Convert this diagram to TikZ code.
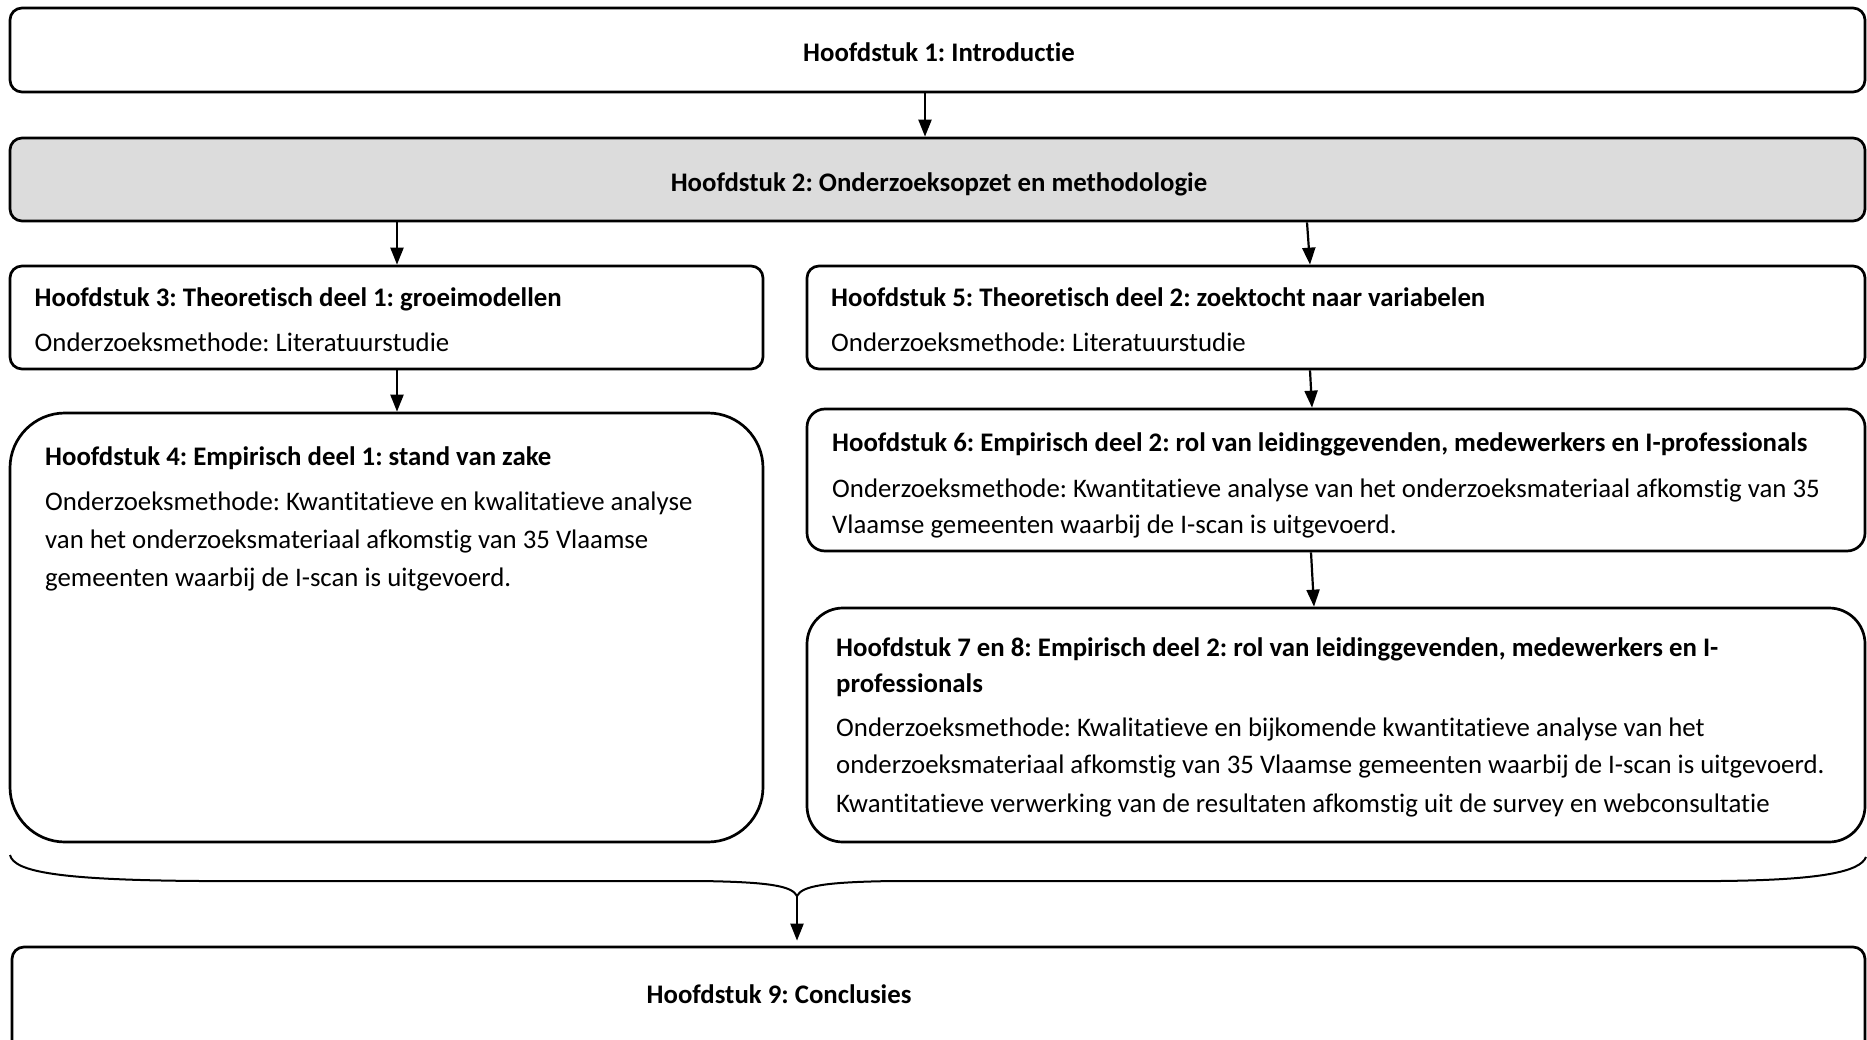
\documentclass[tikz,border=0pt]{standalone}
\usepackage{fontspec}
\setmainfont{Carlito}[Ligatures=NoCommon]
\usetikzlibrary{arrows.meta,calc}
\definecolor{chapgray}{RGB}{220,220,220}
\frenchspacing
\tikzset{
  box/.style={draw=black, line width=2.7pt, rounded corners=12pt, inner sep=0pt, anchor=center},
  txt/.style={anchor=base west, inner sep=0pt},
  ctxt/.style={anchor=base, inner sep=0pt},
  arr/.style={line width=2.2pt, -{Triangle[length=17pt,width=13pt]}},
  bracepath/.style={line width=2pt}
}
\begin{document}
\begin{tikzpicture}[x=1pt,y=-1pt,font=\fontsize{26.8}{38}\selectfont]
\useasboundingbox (0,0) rectangle (1867,1040);
\clip (0,0) rectangle (1867,1040);

% chapter boxes
\node[box, minimum width=1855pt, minimum height=84pt] (b1) at (937.5,50) {};
\node[box, fill=chapgray, minimum width=1855pt, minimum height=83pt] (b2) at (937.5,179.5) {};
\node[box, minimum width=753pt, minimum height=103pt] (b3) at (386.5,317.5) {};
\node[box, minimum width=1058pt, minimum height=103pt] (b5) at (1336,317.5) {};
\node[box, rounded corners=55pt, minimum width=753pt, minimum height=429pt] (b4) at (386.5,627.5) {};
\node[box, rounded corners=18pt, minimum width=1058pt, minimum height=142pt] (b6) at (1336,480) {};
\node[box, rounded corners=36pt, minimum width=1058pt, minimum height=234pt] (b7) at (1336,725) {};
\node[box, minimum width=1853pt, minimum height=140pt] (b9) at (938.5,1017) {};

% texts
\node[ctxt] (t1) at (939,62) {\bfseries Hoofdstuk 1: Introductie};
\node[ctxt] (t2) at (939,192) {\bfseries Hoofdstuk 2: Onderzoeksopzet en methodologie};

\node[txt] (t3a) at (34.5,307) {\bfseries Hoofdstuk 3: Theoretisch deel 1: groeimodellen};
\node[txt] (t3b) at (34.5,352) {Onderzoeksmethode: Literatuurstudie};

\node[txt] (t5a) at (831,307) {\bfseries Hoofdstuk 5: Theoretisch deel 2: zoektocht naar variabelen};
\node[txt] (t5b) at (831,352) {Onderzoeksmethode: Literatuurstudie};

\node[txt] (t4a) at (45,465) {\bfseries Hoofdstuk 4: Empirisch deel 1: stand van zake};
\node[txt] (t4b) at (45,510) {Onderzoeksmethode: Kwantitatieve en kwalitatieve analyse};
\node[txt] (t4c) at (45,548) {van het onderzoeksmateriaal afkomstig van 35 Vlaamse};
\node[txt] (t4d) at (45,586) {gemeenten waarbij de I-scan is uitgevoerd.};

\node[txt] (t6a) at (832,451) {\bfseries Hoofdstuk 6: Empirisch deel 2: rol van leidinggevenden, medewerkers en I-professionals};
\node[txt] (t6b) at (832,497) {Onderzoeksmethode: Kwantitatieve analyse van het onderzoeksmateriaal afkomstig van 35};
\node[txt] (t6c) at (832,533) {Vlaamse gemeenten waarbij de I-scan is uitgevoerd.};

\node[txt] (t7a) at (836,656) {\bfseries Hoofdstuk 7 en 8: Empirisch deel 2: rol van leidinggevenden, medewerkers en I-};
\node[txt] (t7b) at (836,692) {\bfseries professionals};
\node[txt] (t7c) at (836,736) {Onderzoeksmethode: Kwalitatieve en bijkomende kwantitatieve analyse van het};
\node[txt] (t7d) at (836,773) {onderzoeksmateriaal afkomstig van 35 Vlaamse gemeenten waarbij de I-scan is uitgevoerd.};
\node[txt] (t7e) at (836,812) {Kwantitatieve verwerking van de resultaten afkomstig uit de survey en webconsultatie};

\node[txt] (t9) at (646.5,1003) {\bfseries Hoofdstuk 9: Conclusies};

% connectors
\draw[arr] ($(b1.south)+(-12.5,0)$) -- ($(b2.north)+(-12.5,0)$);
\draw[arr] ($(b2.south -| b3.north)+(10.5,0)$) -- ($(b3.north)+(10.5,0)$);
\draw[arr] ($(b2.south -| b5.north)+(-29,0)$) -- ($(b5.north)+(-26,0)$);
\draw[arr] ($(b3.south)+(10.5,0)$) -- ($(b4.north)+(10.5,0)$);
\draw[arr] ($(b5.south)+(-26,0)$) -- ($(b6.north)+(-24,0)$);
\draw[arr] ($(b6.south)+(-25,0)$) -- ($(b7.north)+(-22,0)$);

% brace gathering the chapters above
\coordinate (tip) at (797,896);
\draw[bracepath] (10,855) .. controls (14,872) and (60,880) .. (200,881)
  -- (700,881) .. controls (770,882) and (792,886) .. (tip)
  .. controls (802,886) and (824,882) .. (894,881)
  -- (1720,881) .. controls (1820,880) and (1860,872) .. (1866,857);
\draw[arr, shorten >=5pt] (tip) -- (tip |- b9.north);
\end{tikzpicture}
\end{document}
